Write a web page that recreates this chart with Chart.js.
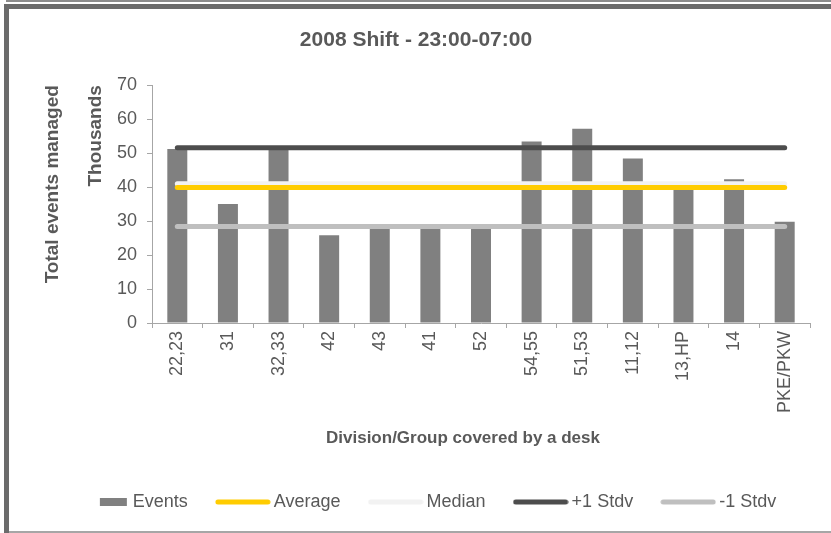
<!DOCTYPE html>
<html>
<head>
<meta charset="utf-8">
<title>2008 Shift - 23:00-07:00</title>
<script src="https://cdn.jsdelivr.net/npm/chart.js@4.4.1/dist/chart.umd.min.js"></script>
<style>
  html, body { margin: 0; padding: 0; background: #fff; overflow: hidden; width: 831px; height: 533px; }
  #wrap { position: relative; width: 831px; height: 533px; overflow: hidden; }
  #chart { position: absolute; left: 0; top: 0; }
  .rule { position: absolute; pointer-events: none; box-sizing: border-box; }
  #edgeTop { left: 6px; width: 825px; top: 0; height: 2px; background: #8c8c8c; }
  #frameTop { left: 4px; top: 4px; width: 827px; height: 5px; background: #6b6b6b; }
  #frameLeft { left: 4px; top: 4px; width: 5px; height: 529px; background: #6b6b6b; }
  #edgeBottom { left: 9px; width: 822px; top: 531px; height: 2px; background: #a6a6a6; }
</style>
</head>
<body>
<div id="wrap">
  <canvas id="chart" width="831" height="533"></canvas>
  <div class="rule" id="edgeTop"></div>
  <div class="rule" id="frameTop"></div>
  <div class="rule" id="frameLeft"></div>
  <div class="rule" id="edgeBottom"></div>
</div>
<script>
// desks (x categories) and events per desk, in thousands
const categories = ['22,23', '31', '32,33', '42', '43', '41', '52', '54,55', '51,53', '11,12', '13,HP', '14', 'PKE/PKW'];
const events = [51.2, 35.0, 51.5, 25.8, 28.6, 28.2, 28.8, 53.4, 57.2, 48.4, 41.0, 42.3, 29.8];

// summary lines
const average = 39.9;
const median = 41.0;
const plusStdv = 51.6;
const minusStdv = 28.4;

// y axis range
const yMin = 0;
const yMax = 70;
const yStep = 10;

const TEXT = '#595959';
const AXIS = '#a6a6a6';
const BAR = '#808080';
const YELLOW = '#ffcc00';
const MEDIAN = '#f2f2f2';
const DARK = '#4d4d4d';
const LIGHT = '#bfbfbf';

Chart.defaults.font.family = '"Liberation Sans", Arial, sans-serif';
Chart.defaults.color = TEXT;

// horizontal line from first to last desk
function statLine(value) {
  return [
    { x: categories[0], y: value },
    { x: categories[categories.length - 1], y: value }
  ];
}

// legend swatches: a short block for the bars, a rounded stroke for lines
function swatch(color, kind) {
  const c = document.createElement('canvas');
  c.width = 56;
  c.height = 8;
  const g = c.getContext('2d');
  if (kind === 'box') {
    g.fillStyle = color;
    g.fillRect(26, 0, 27, 8);
  } else {
    g.strokeStyle = color;
    g.lineWidth = 5;
    g.lineCap = 'round';
    g.beginPath();
    g.moveTo(3, 4);
    g.lineTo(53, 4);
    g.stroke();
  }
  return c;
}
const swatches = [
  swatch(BAR, 'box'),
  swatch(YELLOW),
  swatch(MEDIAN),
  swatch(DARK),
  swatch(LIGHT)
];

// move title and legend boxes after layout
const shiftBoxes = {
  id: 'shiftBoxes',
  afterLayout(chart) {
    const move = (box, dx, dy) => {
      box.left += dx; box.right += dx;
      box.top += dy; box.bottom += dy;
    };
    move(chart.titleBlock, 11, 0);
    move(chart.legend, 23, -12);
  }
};

// x axis caption under the rotated desk labels
const axisCaption = {
  id: 'axisCaption',
  afterDraw(chart, args, opts) {
    const { ctx, chartArea } = chart;
    ctx.save();
    ctx.font = 'bold 17px "Liberation Sans", Arial, sans-serif';
    ctx.fillStyle = TEXT;
    ctx.textAlign = 'center';
    ctx.textBaseline = 'middle';
    ctx.fillText(opts.text, (chartArea.left + chartArea.right) / 2 - 18, chartArea.bottom + 115);
    ctx.restore();
  }
};

const lineStyle = {
  type: 'line',
  borderWidth: 5,
  borderCapStyle: 'round',
  pointRadius: 0,
  pointHoverRadius: 0,
  fill: false
};

new Chart(document.getElementById('chart'), {
  type: 'bar',
  data: {
    labels: categories,
    datasets: [
      {
        label: 'Events',
        data: events,
        backgroundColor: BAR,
        barPercentage: 0.395,
        categoryPercentage: 1.0,
        order: 5
      },
      { ...lineStyle, label: 'Average', data: statLine(average), borderColor: YELLOW, order: 1 },
      { ...lineStyle, label: 'Median', data: statLine(median), borderColor: MEDIAN, order: 2 },
      { ...lineStyle, label: '+1 Stdv', data: statLine(plusStdv), borderColor: DARK, order: 3 },
      { ...lineStyle, label: '-1 Stdv', data: statLine(minusStdv), borderColor: LIGHT, order: 4 }
    ]
  },
  options: {
    responsive: false,
    animation: false,
    layout: { padding: { left: 0, right: 21, top: 0, bottom: 0 } },
    plugins: {
      title: {
        display: true,
        text: '2008 Shift - 23:00-07:00',
        color: TEXT,
        font: { size: 21, weight: 'bold' },
        padding: { top: 28, bottom: 32 }
      },
      legend: {
        position: 'bottom',
        labels: {
          usePointStyle: true,
          pointStyleWidth: 44,
          color: TEXT,
          font: { size: 18 },
          padding: 33,
          // keep dataset order in the legend, with a swatch per series
          generateLabels(chart) {
            return Chart.defaults.plugins.legend.labels.generateLabels(chart)
              .sort((a, b) => a.datasetIndex - b.datasetIndex)
              .map(item => ({ ...item, pointStyle: swatches[item.datasetIndex] }));
          }
        }
      },
      tooltip: { enabled: false },
      axisCaption: { text: 'Division/Group covered by a desk' }
    },
    scales: {
      x: {
        type: 'category',
        offset: true,
        grid: { display: true, drawOnChartArea: false, offset: true, tickLength: 5, color: AXIS },
        border: { display: true, color: AXIS },
        ticks: { color: TEXT, font: { size: 18 }, minRotation: 90, maxRotation: 90, autoSkip: false, padding: 3 },
        afterFit(scale) { scale.height = 149; }
      },
      y: {
        type: 'linear',
        position: 'left',
        min: yMin,
        max: yMax,
        ticks: { stepSize: yStep, color: TEXT, font: { size: 18 }, padding: 10 },
        grid: { display: true, drawOnChartArea: false, tickLength: 5, color: AXIS },
        border: { display: true, color: AXIS },
        title: {
          display: true,
          text: 'Thousands',
          align: 'end',
          color: TEXT,
          font: { size: 19, weight: 'bold' },
          padding: { top: 14.4, bottom: 0 }
        },
        afterFit(scale) { scale.width = 82; }
      },
      yOuter: {
        type: 'linear',
        position: 'left',
        weight: 1,
        ticks: { display: false },
        grid: { display: false },
        border: { display: false },
        title: {
          display: true,
          text: 'Total events managed',
          align: 'end',
          color: TEXT,
          font: { size: 19, weight: 'bold' },
          padding: { top: 41.6, bottom: 0 }
        },
        afterFit(scale) { scale.width = 70; }
      }
    }
  },
  plugins: [shiftBoxes, axisCaption]
});
</script>
</body>
</html>
